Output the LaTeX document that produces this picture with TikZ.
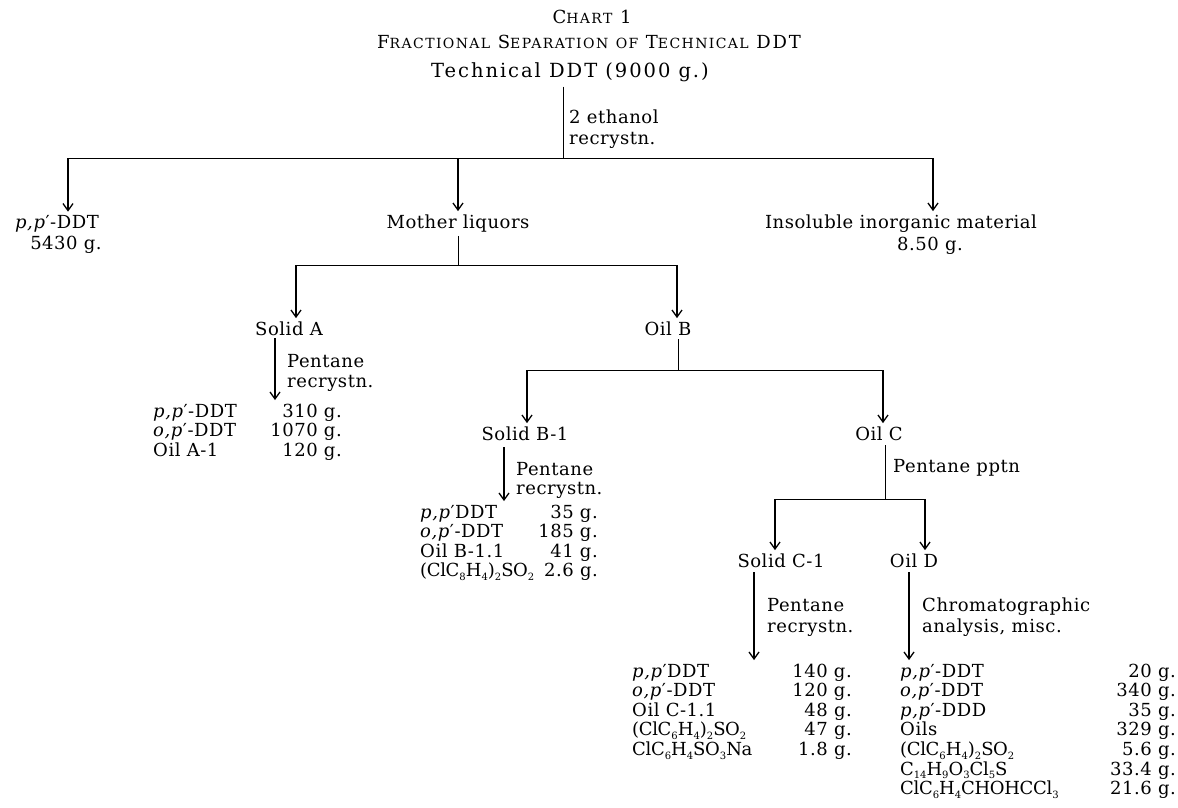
\documentclass[tikz,border=0pt]{standalone}
\usepackage{fontspec}
\setmainfont{DejaVu Serif}[LetterSpace=3]
\usetikzlibrary{arrows.meta}
\newcommand\msz{\fontsize{18}{19.6}\selectfont}
\newcommand\tsz{\fontsize{18}{20}\selectfont\addfontfeature{LetterSpace=10}}
\newcommand\fsc[2]{#1{\fontsize{14}{16}\selectfont #2}}
\newcommand\pp{\textit{p,p}′}
\newcommand\op{\textit{o,p}′}
\newcommand\sbs[1]{\raisebox{-0.22em}{\fontsize{10}{11}\selectfont #1}}
\newcommand\fml[1]{{\addfontfeature{LetterSpace=-2}#1}}
\tikzset{
  txt/.style={inner sep=0pt, anchor=base, font=\msz},
  ttl/.style={inner sep=0pt, anchor=base, font=\tsz},
  lbl/.style={inner sep=0pt, anchor=base west, font=\msz},
  lstl/.style={inner sep=0pt, anchor=base west, font=\msz},
  lstr/.style={inner sep=0pt, anchor=base east, font=\msz},
  ln/.style={line width=0.8pt},
  thinln/.style={line width=0.5pt},
  arr/.style={line width=1.1pt, -{Straight Barb[length=7pt,width=10pt,line width=1.3pt]}},
}
\begin{document}
\begin{tikzpicture}[x=1pt,y=-1pt]
\useasboundingbox (0,0) rectangle (1178,807);
% titles
\node[ttl] (t1) at (592,23) {\fsc{C}{HART} 1};
\node[ttl] (t2) at (589,48) {\fsc{F}{RACTIONAL} \fsc{S}{EPARATION} \fsc{}{OF} \fsc{T}{ECHNICAL} DDT};
\node[txt, font=\fontsize{19.5}{21}\selectfont\addfontfeature{LetterSpace=10}] (tech) at (570,77) {Technical DDT (9000 g.)};
% first split
\coordinate (s1) at (563,158);
\coordinate (b1L) at (68,158);
\coordinate (b1R) at (933,158);
\draw[ln, shorten <=5pt] (s1 |- tech.south) -- (s1);
\node[lbl] (eth) at (569,123) {2 ethanol};
\node[lbl] (rec1) at (569,144) {recrystn.};
\draw[ln] (b1L) -- (b1R);
\node[txt] (ppd) at (57,228) {\pp-DDT};
\node[txt] (ppdw) at (66,249) {5430 g.};
\node[txt] (ml) at (458,228) {Mother liquors};
\node[txt] (ins) at (901,228) {Insoluble inorganic material};
\node[txt] (insw) at (930,250) {8.50 g.};
\draw[arr, shorten >=3pt] (b1L) -- (b1L |- ppd.north);
\draw[arr, shorten >=3pt] (ml |- s1) -- (ml.north);
\draw[arr, shorten >=3pt] (b1R) -- (b1R |- ins.north);
% mother liquors split
\coordinate (b2L) at (296,265);
\coordinate (b2R) at (677,265);
\draw[thinln, shorten <=4pt] (ml.south) -- (ml |- b2L);
\draw[ln] (b2L) -- (b2R);
\node[txt] (solA) at (289,335) {Solid A};
\node[txt] (oilB) at (668,335) {Oil B};
\draw[arr, shorten >=3pt] (b2L) -- (b2L |- solA.north);
\draw[arr, shorten >=3pt] (b2R) -- (b2R |- oilB.north);
% Solid A
\coordinate (cA) at (275,338);
\node[lbl] (pA) at (287,367) {Pentane};
\node[lbl] (rA) at (287,387) {recrystn.};
\node[lstl] (tAn) at (153,417) {\begin{tabular}[t]{@{}l@{}}\pp-DDT\\\op-DDT\\Oil A-1\end{tabular}};
\node[lstr] (tAv) at (342,417) {\begin{tabular}[t]{@{}r@{}}310 g.\\1070 g.\\120 g.\end{tabular}};
\draw[arr, shorten >=3pt] (cA) -- (cA |- tAn.north);
% Oil B split
\coordinate (b3L) at (527,370);
\coordinate (b3R) at (883,370);
\coordinate (b3c) at (678,370);
\draw[thinln, shorten <=4pt] (oilB.south -| b3c) -- (b3c);
\draw[ln] (b3L) -- (b3R);
\node[txt] (solB) at (525,440) {Solid B-1};
\node[txt] (oilC) at (879,440) {Oil C};
\draw[arr, shorten >=3pt] (b3L) -- (b3L |- solB.north);
\draw[arr, shorten >=3pt] (b3R) -- (b3R |- oilC.north);
% Solid B-1
\coordinate (cB) at (504,447);
\node[lbl] (pB) at (516,475) {Pentane};
\node[lbl] (rB) at (516,494) {recrystn.};
\node[lstl] (tBn) at (420,518) {\begin{tabular}[t]{@{}l@{}}\pp DDT\\\op-DDT\\Oil B-1.1\\\fml{(ClC\sbs{8}H\sbs{4})\sbs{2}SO\sbs{2}}\end{tabular}};
\node[lstr] (tBv) at (598,518) {\begin{tabular}[t]{@{}r@{}}35 g.\\185 g.\\41 g.\\2.6 g.\end{tabular}};
\draw[arr, shorten >=3pt] (cB) -- (cB |- tBn.north);
% Oil C split
\coordinate (b4L) at (775,499);
\coordinate (b4R) at (925,499);
\coordinate (b4c) at (885,499);
\draw[thinln, shorten <=5pt] (oilC.south -| b4c) -- (b4c);
\node[lbl] (pC) at (893,472) {Pentane pptn};
\draw[ln] (b4L) -- (b4R);
\node[txt] (solC) at (781,567) {Solid C-1};
\node[txt] (oilD) at (914,567) {Oil D};
\draw[arr, shorten >=3pt] (b4L) -- (b4L |- solC.north);
\draw[arr, shorten >=3pt] (b4R) -- (b4R |- oilD.north);
% Solid C-1
\coordinate (cC) at (754,572);
\node[lbl] (pC1) at (767,611) {Pentane};
\node[lbl] (rC1) at (767,632) {recrystn.};
\node[lstl] (tCn) at (632,677) {\begin{tabular}[t]{@{}l@{}}\pp DDT\\\op-DDT\\Oil C-1.1\\\fml{(ClC\sbs{6}H\sbs{4})\sbs{2}SO\sbs{2}}\\\fml{ClC\sbs{6}H\sbs{4}SO\sbs{3}Na}\end{tabular}};
\node[lstr] (tCv) at (852,677) {\begin{tabular}[t]{@{}r@{}}140 g.\\120 g.\\48 g.\\47 g.\\1.8 g.\end{tabular}};
\draw[arr, shorten >=3pt] (cC) -- (cC |- tCn.north);
% Oil D
\coordinate (cD) at (909,572);
\node[lbl] (pD) at (922,611) {Chromatographic};
\node[lbl] (rD) at (922,632) {analysis, misc.};
\node[lstl] (tDn) at (900,677) {\begin{tabular}[t]{@{}l@{}}\pp-DDT\\\op-DDT\\\pp-DDD\\Oils\\\fml{(ClC\sbs{6}H\sbs{4})\sbs{2}SO\sbs{2}}\\\fml{C\sbs{14}H\sbs{9}O\sbs{3}Cl\sbs{5}S}\\\fml{ClC\sbs{6}H\sbs{4}CHOHCCl\sbs{3}}\end{tabular}};
\node[lstr] (tDv) at (1176,677) {\begin{tabular}[t]{@{}r@{}}20 g.\\340 g.\\35 g.\\329 g.\\5.6 g.\\33.4 g.\\21.6 g.\end{tabular}};
\draw[arr, shorten >=3pt] (cD) -- (cD |- tDn.north);
\end{tikzpicture}
\end{document}
